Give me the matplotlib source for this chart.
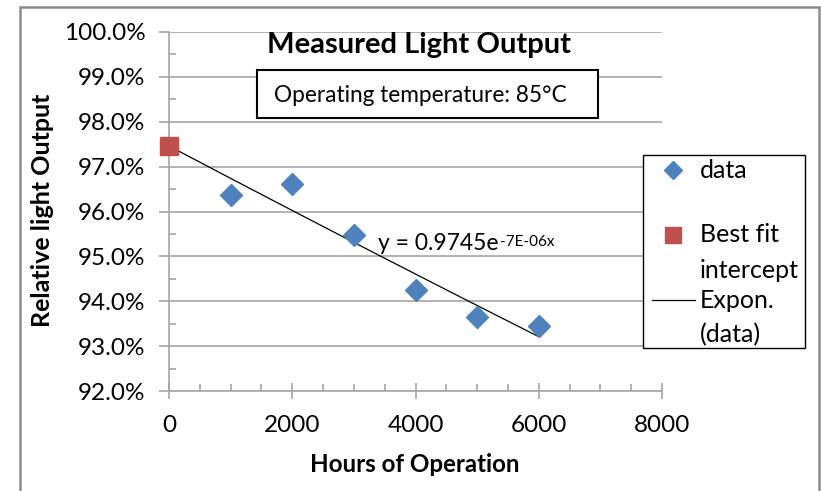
import numpy as np
import matplotlib.pyplot as plt
from matplotlib.lines import Line2D
from matplotlib.patches import Rectangle
from matplotlib.ticker import FuncFormatter, MultipleLocator

plt.rcParams['font.family'] = ['Lato', 'DejaVu Sans']

# measured data (fraction of initial light output)
hours = [1000, 2000, 3000, 4000, 5000, 6000]
light = [0.9636, 0.9661, 0.9548, 0.9426, 0.9365, 0.9344]
intercept_x = [0]
intercept_y = [0.9745]

GRID = '#a6a6a6'
BLUE = '#4f81bd'
RED = '#c0504d'

# exponential trend fit on the data
b, ln_a = np.polyfit(hours, np.log(light), 1)
fit_x = np.linspace(0, max(hours), 100)
fit_y = np.exp(ln_a) * np.exp(b * fit_x)

W, H = 821, 491
fig = plt.figure(figsize=(W / 100, H / 100), dpi=100)
ax = fig.add_axes([169 / W, 1 - 391 / H, (662 - 169) / W, (391 - 32) / H])

ax.plot(fit_x, fit_y, color='black', lw=0.9, zorder=3)
ax.plot(hours, light, 'D', color=BLUE, markersize=11, zorder=4)
ax.plot(intercept_x, intercept_y, 's', color=RED, markersize=13, zorder=4, clip_on=False)

ax.set_xlim(0, 8000)
ax.set_ylim(0.92, 1.0)
ax.xaxis.set_major_locator(MultipleLocator(2000))
ax.xaxis.set_minor_locator(MultipleLocator(500))
ax.yaxis.set_major_locator(MultipleLocator(0.01))
ax.yaxis.set_minor_locator(MultipleLocator(0.005))
ax.yaxis.set_major_formatter(FuncFormatter(lambda v, p: f"{v * 100:.1f}%"))

ax.grid(axis='y', which='major', color=GRID, lw=1.2)
ax.set_axisbelow(True)
for s in ['top', 'right']:
    ax.spines[s].set_visible(False)
for s in ['left', 'bottom']:
    ax.spines[s].set_color(GRID)
    ax.spines[s].set_linewidth(1.2)

ax.tick_params(axis='y', which='major', direction='out', length=7, color=GRID, width=1.2,
               labelsize=17.5, pad=10)
ax.tick_params(axis='y', which='minor', direction='in', length=5, color=GRID, width=1.2)
ax.tick_params(axis='x', which='major', direction='inout', length=12, color=GRID, width=1.2,
               labelsize=17.5, pad=11)
ax.tick_params(axis='x', which='minor', direction='in', length=5, color=GRID, width=1.2)

eq = ax.text(3390, 0.9528, "y = 0.9745e", fontsize=16.5, va='center', zorder=5)
ax.annotate("-7E-06x", xy=(1, 1), xycoords=eq, xytext=(1, -1), textcoords='offset points',
            fontsize=11, va='top', ha='left', zorder=5)

fig.text(419 / W, 1 - 45 / H, "Measured Light Output", fontsize=21, fontweight='bold',
         ha='center', va='center')
fig.add_artist(Rectangle((257 / W, 1 - 118 / H), (598 - 257) / W, (118 - 70) / H,
                         transform=fig.transFigure, facecolor='white', edgecolor='black', lw=1.5, zorder=5))
fig.text(274 / W, 1 - 96 / H, "Operating temperature: 85\u00b0C", fontsize=16.3,
         ha='left', va='center', zorder=6)

fig.text(42 / W, 1 - 210 / H, "Relative light Output", fontsize=18, fontweight='bold',
         rotation=90, ha='center', va='center')
fig.text(415 / W, 1 - 465 / H, "Hours of Operation", fontsize=17.4, fontweight='bold',
         ha='center', va='center')

# legend box drawn in pixel positions
fig.add_artist(Rectangle((643 / W, 1 - 348 / H), (805 - 643) / W, (348 - 155) / H,
                         transform=fig.transFigure, facecolor='white', edgecolor='black', lw=1.0, zorder=5))
fig.add_artist(Line2D([673 / W], [1 - 170 / H], marker='D', color=BLUE, markersize=9,
                      transform=fig.transFigure, zorder=6))
fig.add_artist(Line2D([673 / W], [1 - 235 / H], marker='s', color=RED, markersize=11,
                      transform=fig.transFigure, zorder=6))
fig.add_artist(Line2D([652 / W, 695 / W], [1 - 300 / H, 1 - 300 / H], color='black', lw=0.9,
                      transform=fig.transFigure, zorder=6))
for txt, yy in [("data", 170), ("Best fit", 235), ("intercept", 270), ("Expon.", 300), ("(data)", 335)]:
    fig.text(700 / W, 1 - yy / H, txt, fontsize=18, ha='left', va='center', zorder=6)

# outer chart frame
fig.add_artist(Rectangle((20 / W, -0.05), (819 - 20) / W, 1.05 - 7 / H,
                         transform=fig.transFigure, facecolor='none', edgecolor='#8c8c8c', lw=1.8))

fig.savefig('out.png', dpi=100)
